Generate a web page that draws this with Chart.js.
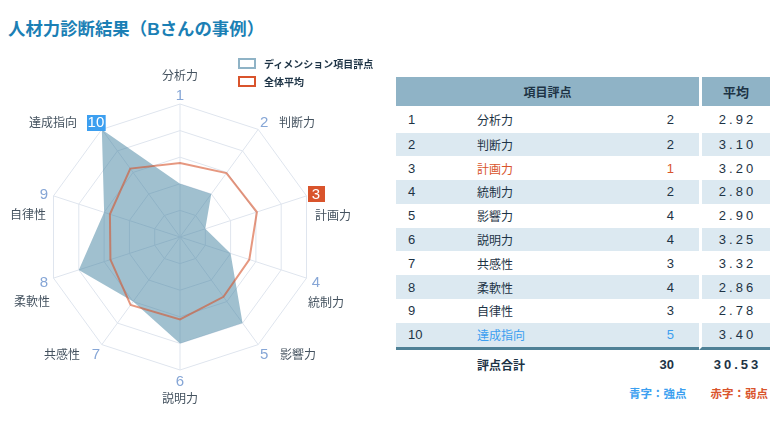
<!DOCTYPE html>
<html lang="ja">
<head>
<meta charset="utf-8">
<script src="https://cdn.jsdelivr.net/npm/chart.js@4.4.1/dist/chart.umd.min.js"></script>
<style>
    body { margin: 0; width: 770px; height: 422px; overflow: hidden; background: #fff; position: relative;
           font-family: "Liberation Sans", "Noto Sans CJK JP", sans-serif; color: #1d3345; }
    #title { position: absolute; left: 8px; top: 20px; font-size: 17.4px; line-height: 18px; font-weight: bold; color: #1b7fb5; }
    #chartBox { position: absolute; left: 0; top: 0; width: 390px; height: 422px; }
    #legend { position: absolute; left: 238px; top: 54px; font-size: 10px; font-weight: bold; font-family: "Noto Sans CJK JP", sans-serif; }
    #legend .item { display: flex; align-items: center; height: 18px; }
    #legend .box { width: 14px; height: 7px; border: 2px solid; margin-right: 8px; }
    #scoreTable { position: absolute; left: 396px; top: 77px; width: 374px; border-collapse: separate; border-spacing: 0;
                  font-size: 12px; table-layout: fixed; }
    #scoreTable th { background: #8fb3c6; height: 29px; padding: 0; font-weight: bold; font-family: "Noto Sans CJK JP", sans-serif; }
    #scoreTable td { padding: 0; height: 23.8px; }
    #scoreTable tbody tr.first td { height: 26.5px; }
    #scoreTable tbody tr.alt td { background: #dce9f1; }
    #scoreTable tbody tr.last td { border-bottom: 3px solid #4f8196; }
    #scoreTable .num { padding-left: 12px; font-size: 13px; }
    #scoreTable .name { font-family: "Noto Sans CJK JP", sans-serif; }
    #scoreTable .score { text-align: right; padding-right: 25px; font-size: 13px; }
    #scoreTable .avg { text-align: center; border-left: 3px solid #fff; font-size: 13px; letter-spacing: 3px; padding-left: 3px; }
    #scoreTable tfoot td { height: 29px; font-weight: bold; }
    .strong { color: #3c9ff0; }
    .weak { color: #d9542c; }
    #notes { position: absolute; right: 2px; top: 385px; font-size: 11.5px; font-weight: bold; font-family: "Noto Sans CJK JP", sans-serif; }
    #notes span { margin-left: 24px; }
</style>
</head>
<body>
<div id="title">人材力診断結果（Bさんの事例）</div>
<div id="chartBox"><canvas id="radarChart"></canvas></div>
<div id="legend"></div>
<table id="scoreTable">
    <colgroup><col style="width:81px"><col style="width:150px"><col style="width:72px"><col style="width:71px"></colgroup>
    <thead><tr><th colspan="3">項目評点</th><th class="avg" style="letter-spacing:0;padding-left:0">平均</th></tr></thead>
    <tbody id="rows"></tbody>
    <tfoot><tr><td></td><td class="name" id="totalLabel"></td><td class="score" id="totalScore"></td><td class="avg" id="totalAvg"></td></tr></tfoot>
</table>
<div id="notes"><span class="strong">青字：強点</span><span class="weak">赤字：弱点</span></div>

<script>
// data
var categories = ['分析力', '判断力', '計画力', '統制力', '影響力', '説明力', '共感性', '柔軟性', '自律性', '達成指向'];
var itemNumbers = ['1', '2', '3', '4', '5', '6', '7', '8', '9', '10'];
var scores = [2, 2, 1, 2, 4, 4, 3, 4, 3, 5];
var avgScores = [2.92, 3.10, 3.20, 2.80, 2.90, 3.25, 3.32, 2.86, 2.78, 3.40];
// average line as it is drawn on the radar
var avgLine = [2.78, 2.97, 3.04, 2.74, 2.78, 3.10, 3.16, 2.75, 2.77, 3.18];
var seriesNames = ['ディメンション項目評点', '全体平均'];
var totalLabel = '評点合計';
var strongScore = 5, weakScore = 1;

var blueColor = '#3c9ff0', redColor = '#d9542c';

// where the category name sits relative to its number
var nameLayout = [
    { dx: 0, dy: -20, align: 'center' },
    { dx: 15, dy: 0, align: 'left' },
    { dx: -1, dy: 21, align: 'left' },
    { dx: -8, dy: 20, align: 'left' },
    { dx: 16, dy: 0, align: 'left' },
    { dx: 0, dy: 17, align: 'center' },
    { dx: -16, dy: 0, align: 'right' },
    { dx: 6, dy: 19, align: 'right' },
    { dx: 2, dy: 20, align: 'right' },
    { dx: -19, dy: 0, align: 'right' }
];

var pointLabelPlugin = {
    id: 'pointLabelPlugin',
    afterDraw: function (chart) {
        var scale = chart.scales.r;
        var ctx = chart.ctx;
        ctx.save();
        ctx.textBaseline = 'middle';
        categories.forEach(function (name, i) {
            var p = scale.getPointPosition(i, scale.drawingArea + 10);
            var y = p.y + 1.5;
            ctx.font = '15px "Liberation Sans"';
            var w = ctx.measureText(itemNumbers[i]).width;
            var numColor = '#86a6d6';
            if (scores[i] === strongScore || scores[i] === weakScore) {
                var bw = Math.max(w + 2, 17);
                ctx.fillStyle = scores[i] === strongScore ? blueColor : redColor;
                ctx.fillRect(Math.round(p.x - bw / 2), Math.round(y - 8), bw, 16);
                numColor = '#fff';
            }
            ctx.fillStyle = numColor;
            ctx.textAlign = 'center';
            ctx.fillText(itemNumbers[i], p.x, y + 0.5);

            var lay = nameLayout[i];
            ctx.font = '12px "Noto Sans CJK JP"';
            ctx.fillStyle = '#44525f';
            ctx.textAlign = lay.align;
            ctx.fillText(name, p.x + lay.dx, y + lay.dy);
        });
        ctx.restore();
    }
};

new Chart(document.getElementById('radarChart').getContext('2d'), {
    type: 'radar',
    data: {
        labels: categories,
        datasets: [{
            label: seriesNames[1],
            data: avgLine,
            borderColor: 'rgba(214, 84, 44, 0.6)',
            borderWidth: 2,
            fill: false,
            pointRadius: 0,
            order: 0
        }, {
            label: seriesNames[0],
            data: scores,
            backgroundColor: 'rgba(66, 130, 160, 0.5)',
            borderWidth: 0,
            fill: true,
            pointRadius: 0,
            order: 1
        }]
    },
    options: {
        responsive: true,
        maintainAspectRatio: false,
        animation: false,
        layout: { padding: { left: 46.5, right: 76.5, top: 103.5, bottom: 51.5 } },
        plugins: { legend: { display: false }, tooltip: { enabled: false } },
        scales: {
            r: {
                min: 0,
                max: 5,
                ticks: { display: false, stepSize: 1 },
                grid: { color: '#dfe5ee', lineWidth: 1 },
                angleLines: { color: '#dfe5ee', lineWidth: 1 },
                pointLabels: { display: false }
            }
        }
    },
    plugins: [pointLabelPlugin]
});

// legend
var legendColors = ['#8fb3c6', redColor];
document.getElementById('legend').innerHTML = seriesNames.map(function (s, i) {
    return '<div class="item"><span class="box" style="border-color:' + legendColors[i] + '"></span>' + s + '</div>';
}).join('');

// table
var rowsHtml = '';
categories.forEach(function (name, i) {
    var cls = [];
    if (i === 0) cls.push('first');
    if (i % 2 === 1) cls.push('alt');
    if (i === categories.length - 1) cls.push('last');
    var mark = scores[i] === strongScore ? 'strong' : (scores[i] === weakScore ? 'weak' : '');
    rowsHtml += '<tr class="' + cls.join(' ') + '">' +
        '<td class="num">' + itemNumbers[i] + '</td>' +
        '<td class="name ' + mark + '">' + name + '</td>' +
        '<td class="score ' + mark + '">' + scores[i] + '</td>' +
        '<td class="avg">' + avgScores[i].toFixed(2) + '</td></tr>';
});
document.getElementById('rows').innerHTML = rowsHtml;
document.getElementById('totalLabel').textContent = totalLabel;
document.getElementById('totalScore').textContent = scores.reduce(function (a, b) { return a + b; }, 0);
document.getElementById('totalAvg').textContent = avgScores.reduce(function (a, b) { return a + b; }, 0).toFixed(2);
</script>
</body>
</html>
